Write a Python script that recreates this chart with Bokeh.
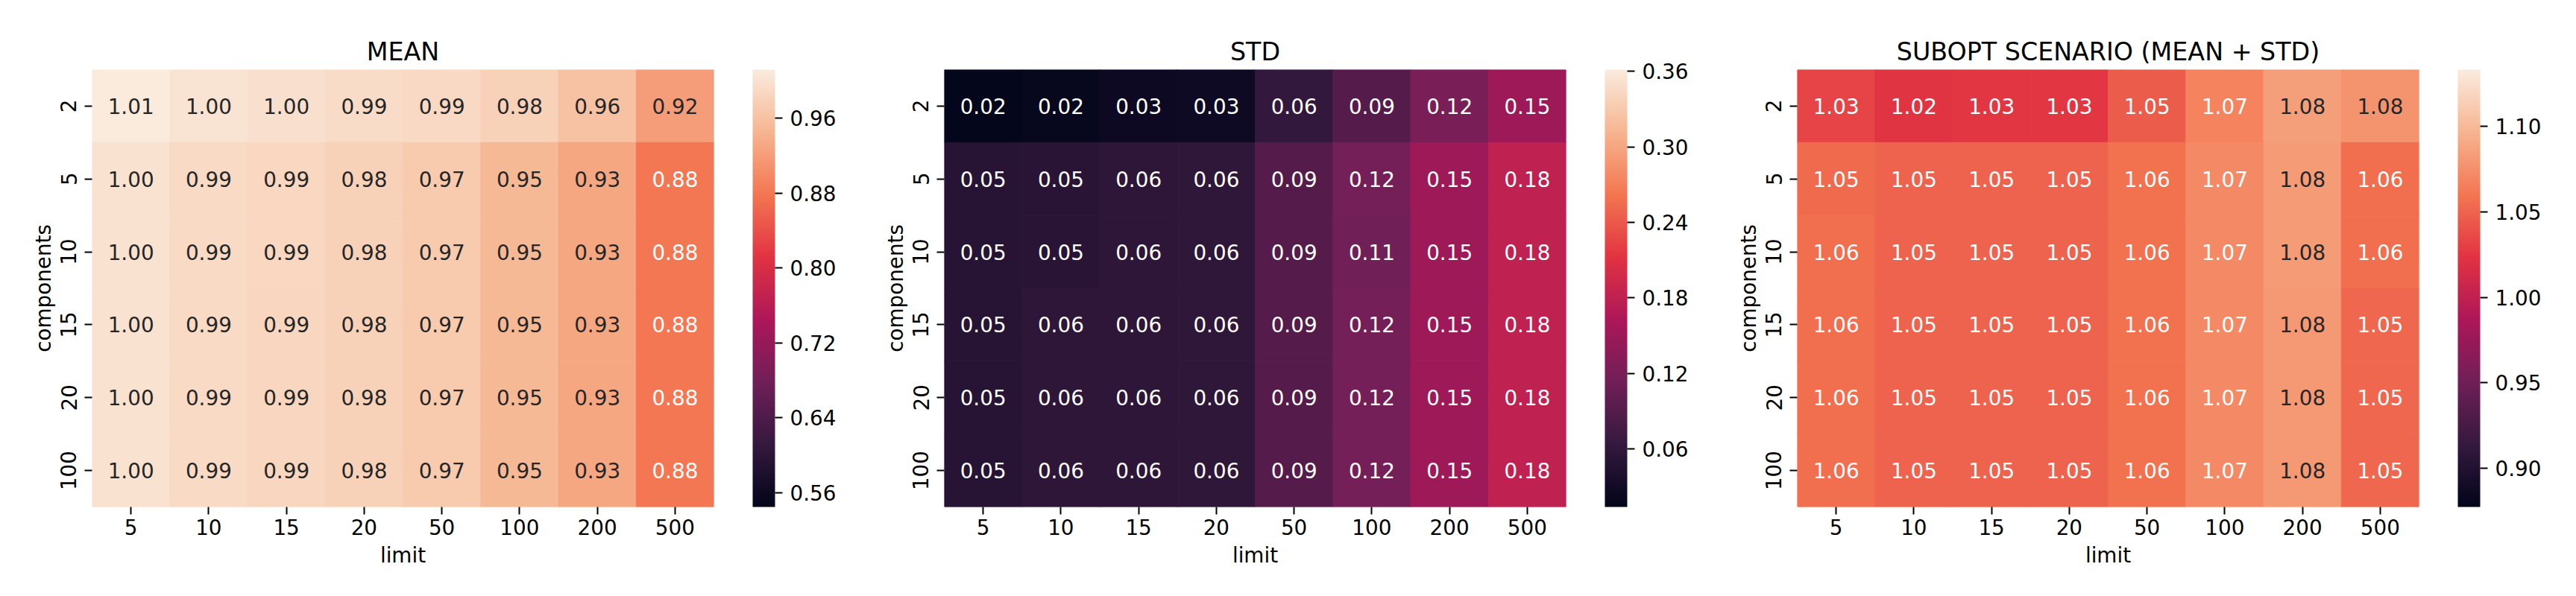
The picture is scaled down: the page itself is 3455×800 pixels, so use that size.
import numpy as np
from bokeh.plotting import figure
from bokeh.models import (ColumnDataSource, LinearColorMapper, ColorBar, FixedTicker,
                          PrintfTickFormatter)
from bokeh.layouts import row
from bokeh.core.properties import value
from bokeh.embed import file_html
from bokeh.resources import INLINE

# ---------------- data ----------------
limits = ["5", "10", "15", "20", "50", "100", "200", "500"]
components = ["2", "5", "10", "15", "20", "100"]

mean_vals = [
    [1.010, 1.002, 0.999, 0.993, 0.989, 0.980, 0.962, 0.920],
    [1.000, 0.991, 0.988, 0.980, 0.970, 0.950, 0.930, 0.880],
    [1.000, 0.991, 0.988, 0.980, 0.970, 0.950, 0.930, 0.880],
    [1.000, 0.991, 0.986, 0.980, 0.970, 0.950, 0.930, 0.880],
    [1.000, 0.991, 0.986, 0.980, 0.970, 0.950, 0.930, 0.880],
    [1.000, 0.991, 0.986, 0.980, 0.970, 0.950, 0.930, 0.880],
]
std_vals = [
    [0.016, 0.018, 0.026, 0.027, 0.060, 0.090, 0.120, 0.150],
    [0.050, 0.053, 0.056, 0.058, 0.090, 0.116, 0.150, 0.180],
    [0.050, 0.053, 0.056, 0.058, 0.090, 0.114, 0.150, 0.180],
    [0.050, 0.056, 0.056, 0.058, 0.090, 0.116, 0.150, 0.180],
    [0.050, 0.056, 0.056, 0.058, 0.090, 0.116, 0.150, 0.180],
    [0.050, 0.056, 0.056, 0.058, 0.090, 0.116, 0.150, 0.180],
]
subopt_vals = [
    [1.033, 1.024, 1.026, 1.026, 1.046, 1.068, 1.084, 1.078],
    [1.054, 1.050, 1.050, 1.050, 1.058, 1.072, 1.082, 1.056],
    [1.056, 1.050, 1.050, 1.050, 1.058, 1.072, 1.082, 1.056],
    [1.056, 1.050, 1.050, 1.050, 1.058, 1.072, 1.081, 1.052],
    [1.056, 1.050, 1.050, 1.050, 1.058, 1.072, 1.081, 1.052],
    [1.056, 1.050, 1.050, 1.050, 1.058, 1.072, 1.081, 1.052],
]
titles = ["MEAN", "STD", "SUBOPT SCENARIO (MEAN + STD)"]
color_limits = [(0.5446, 1.0118), (0.0138, 0.3614), (0.8773, 1.1333)]
cbar_ticks = [
    [0.56, 0.64, 0.72, 0.80, 0.88, 0.96],
    [0.06, 0.12, 0.18, 0.24, 0.30, 0.36],
    [0.90, 0.95, 1.00, 1.05, 1.10],
]

# ---------------- colormap (rocket-like) ----------------
anchors = ["#03051a", "#35193e", "#701f57", "#ad1759", "#e13342", "#f37651", "#f6b48f", "#faebdd"]
argb = np.array([[int(h[i:i + 2], 16) for i in (1, 3, 5)] for h in anchors], dtype=float)
apos = np.linspace(0, 1, len(anchors))
grid = np.linspace(0, 1, 256)
lut = np.stack([np.interp(grid, apos, argb[:, c]) for c in range(3)], axis=1)
palette = ["#%02x%02x%02x" % tuple(int(round(c)) for c in rgb) for rgb in lut]


def text_color(v, lo, hi):
    t = min(max((v - lo) / (hi - lo), 0), 1)
    rgb = lut[int(t * 255)] / 255.0
    lin = np.where(rgb <= 0.03928, rgb / 12.92, ((rgb + 0.055) / 1.055) ** 2.4)
    lum = 0.2126 * lin[0] + 0.7152 * lin[1] + 0.0722 * lin[2]
    return "#262626" if lum > 0.408 else "white"


FONT = value("DejaVu Sans")
FS = "27.8px"
right_borders = [186, 187, 187]


def panel(vals, title, lims, ticks, RB):
    lo, hi = lims
    xs, ys, vs, labs, tcs = [], [], [], [], []
    for i, comp in enumerate(components):
        for j, lim in enumerate(limits):
            v = vals[i][j]
            xs.append(lim)
            ys.append(comp)
            vs.append(v)
            labs.append("%.2f" % v)
            tcs.append(text_color(v, lo, hi))
    src = ColumnDataSource(dict(x=xs, y=ys, v=vs, lab=labs, tc=tcs))
    mapper = LinearColorMapper(palette=palette, low=lo, high=hi)

    p = figure(frame_width=834, frame_height=587, x_range=limits, y_range=components[::-1],
               output_backend="svg", toolbar_location=None,
               min_border_left=123, min_border_top=93, min_border_bottom=104,
               min_border_right=RB, title=title)
    p.rect(x="x", y="y", width=1, height=1, source=src,
           fill_color={"field": "v", "transform": mapper},
           line_color={"field": "v", "transform": mapper}, line_width=1)
    p.text(x="x", y="y", text="lab", source=src, text_color="tc",
           text_align="center", text_baseline="middle",
           text_font_size=FS, text_font=FONT)

    p.grid.visible = False
    p.outline_line_color = None
    p.background_fill_color = "white"
    p.title.text_font = "DejaVu Sans"
    p.title.text_font_size = "33.3px"
    p.title.text_font_style = "normal"
    p.title.align = "center"
    p.title.text_color = "black"
    p.title.standoff = 10

    for ax in (p.xaxis[0], p.yaxis[0]):
        ax.axis_line_color = None
        ax.major_tick_out = 10
        ax.major_tick_in = 0
        ax.major_tick_line_width = 2
        ax.major_tick_line_color = "black"
        ax.minor_tick_line_color = None
        ax.major_label_text_font = "DejaVu Sans"
        ax.major_label_text_font_size = FS
        ax.major_label_text_color = "black"
        ax.axis_label_text_font = "DejaVu Sans"
        ax.axis_label_text_font_size = FS
        ax.axis_label_text_font_style = "normal"
        ax.axis_label_text_color = "black"
    p.xaxis.axis_label = "limit"
    p.yaxis.axis_label = "components"
    p.yaxis.major_label_orientation = "vertical"
    p.xaxis.major_label_standoff = 6
    p.yaxis.major_label_standoff = 11
    p.xaxis.axis_label_standoff = 8
    p.yaxis.axis_label_standoff = 4

    cb = ColorBar(color_mapper=mapper, ticker=FixedTicker(ticks=ticks),
                  formatter=PrintfTickFormatter(format="%.2f"),
                  width=30, height=587, padding=0, margin=0,
                  major_tick_out=10, major_tick_in=0,
                  major_tick_line_color="black", major_tick_line_width=2,
                  minor_tick_line_color=None,
                  major_label_text_font="DejaVu Sans",
                  major_label_text_font_size=FS,
                  major_label_text_color="black",
                  label_standoff=10, bar_line_color=None,
                  border_line_color=None, background_fill_alpha=0,
                  location=(52, 0))
    p.add_layout(cb, "right")
    return p


figs = [panel(v, t, l, tk, RB) for v, t, l, tk, RB in
        zip([mean_vals, std_vals, subopt_vals], titles, color_limits, cbar_ticks, right_borders)]
layout = row(*figs)
open("out.html", "w").write(file_html(layout, INLINE))
